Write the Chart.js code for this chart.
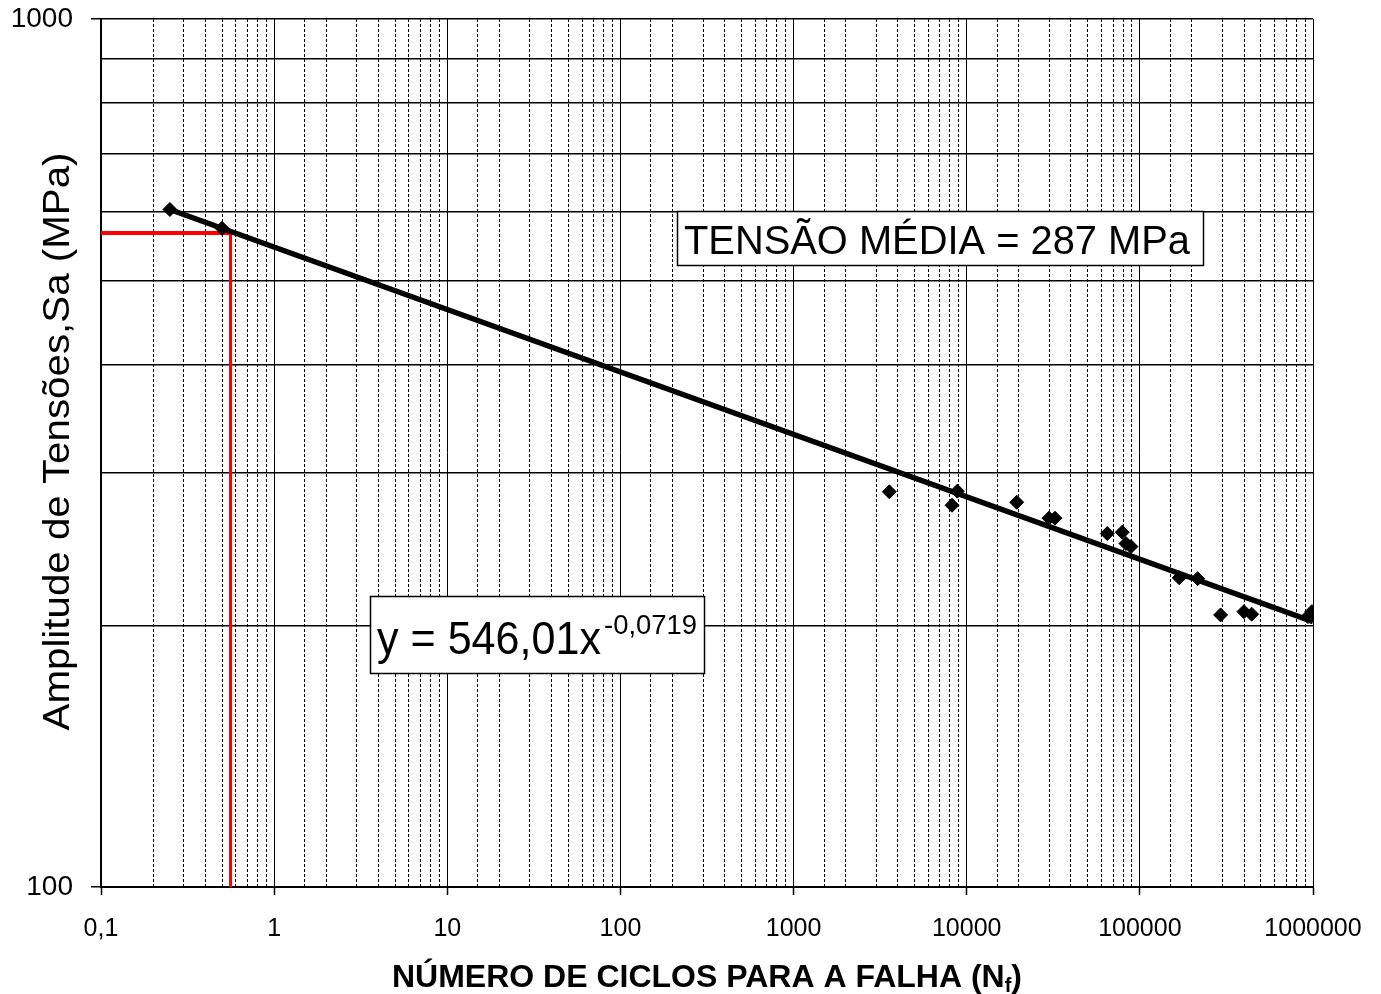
<!DOCTYPE html>
<html>
<head>
<meta charset="utf-8">
<script src="https://cdn.jsdelivr.net/npm/chart.js@4.4.1/dist/chart.umd.min.js"></script>
<style>
  html, body { margin: 0; padding: 0; background: #fff; }
  #wrap { width: 1381px; height: 994px; }
</style>
</head>
<body>
<div id="wrap"><canvas id="c" width="1381" height="994"></canvas></div>
<script>
// Ensaios de fadiga: ciclos até a falha (Nf) e amplitude de tensões (MPa)
const cycles    = [0.25, 0.5, 3573, 8225, 8825, 19440, 29870, 32340, 64830, 79130, 83130, 88830,
                   168800, 215700, 292700, 399000, 442200, 934600, 985400];
const amplitude = [603.3, 573.9, 285.3, 275.3, 285.8, 277.5, 266.0, 266.0, 255.4, 256.3, 248.7, 246.7,
                   227.1, 226.6, 205.8, 207.6, 206.2, 204.9, 207.6];

// Curva de ajuste (lei de potência) y = A * x^b
const fitCoef = 546.01;
const fitExp = -0.0719;
const fitRange = [0.25, 1000000];

// Linha de referência em vermelho
const refCycles = 0.56;
const refAmplitude = 567;

// Linhas de grade do eixo y
const yGridValues = [100, 200, 300, 400, 500, 600, 700, 800, 900, 1000];

// Rótulos dos eixos
const xTickLabels = ['0,1', '1', '10', '100', '1000', '10000', '100000', '1000000'];
const yTickLabels = ['100', '1000'];
const xTitle = 'NÚMERO DE CICLOS PARA A FALHA (N';
const xTitleSub = 'f';
const yTitle = 'Amplitude de Tensões,Sa (MPa)';
const meanStressText = 'TENSÃO MÉDIA = 287 MPa';
const equationBase = 'y = 546,01x';
const equationExp = '-0,0719';

const FONT = '"Liberation Sans", Arial, Helvetica, sans-serif';
const isDecade = v => Math.abs(Math.log10(v) - Math.round(Math.log10(v))) < 1e-6;

function fitText(ctx, text, x, y, font, width, align) {
  ctx.save();
  ctx.font = font;
  const w = ctx.measureText(text).width;
  const s = width / w;
  ctx.translate(x, y);
  ctx.scale(s, 1);
  ctx.textAlign = align || 'left';
  ctx.fillText(text, 0, 0);
  ctx.restore();
}

const annotations = {
  id: 'annotations',
  afterDatasetsDraw(chart) {
    const ctx = chart.ctx;
    ctx.save();
    ctx.textBaseline = 'alphabetic';
    ctx.strokeStyle = '#000';
    ctx.lineWidth = 1.5;

    // caixa da tensão média
    ctx.fillStyle = '#fff';
    ctx.fillRect(677.5, 211.5, 526, 54);
    ctx.strokeRect(677.5, 211.5, 526, 54);
    ctx.fillStyle = '#000';
    fitText(ctx, meanStressText, 684, 254, '40px ' + FONT, 506);

    // caixa da equação
    ctx.fillStyle = '#fff';
    ctx.fillRect(370.5, 596.5, 334, 77);
    ctx.strokeRect(370.5, 596.5, 334, 77);
    ctx.fillStyle = '#000';
    fitText(ctx, equationBase, 377, 654, '46px ' + FONT, 224);
    fitText(ctx, equationExp, 604, 634, '28px ' + FONT, 93);
    ctx.restore();
  },
  afterDraw(chart) {
    const ctx = chart.ctx;
    const area = chart.chartArea;
    ctx.save();
    ctx.fillStyle = '#000';
    ctx.textBaseline = 'alphabetic';

    // título do eixo x, com subscrito
    ctx.font = 'bold 32px ' + FONT;
    const wMain = ctx.measureText(xTitle).width;
    ctx.font = 'bold 20px ' + FONT;
    const wSub = ctx.measureText(xTitleSub).width;
    ctx.font = 'bold 32px ' + FONT;
    const wClose = ctx.measureText(')').width;
    const total = wMain + wSub + wClose;
    const x0 = (area.left + area.right) / 2 - total / 2;
    ctx.fillText(xTitle, x0, 987);
    ctx.font = 'bold 20px ' + FONT;
    ctx.fillText(xTitleSub, x0 + wMain, 992);
    ctx.font = 'bold 32px ' + FONT;
    ctx.fillText(')', x0 + wMain + wSub, 987);

    // título do eixo y (rotacionado)
    ctx.translate(69, 441.5);
    ctx.rotate(-Math.PI / 2);
    fitText(ctx, yTitle, 0, 0, '36px ' + FONT, 578, 'center');
    ctx.restore();
  }
};

const ctx = document.getElementById('c').getContext('2d');
new Chart(ctx, {
  type: 'scatter',
  data: {
    datasets: [
      {
        label: 'Ensaios',
        data: cycles.map((x, i) => ({ x, y: amplitude[i] })),
        pointStyle: 'rectRot',
        pointRadius: 7,
        backgroundColor: '#000',
        borderColor: '#000',
        borderWidth: 1,
        order: 0
      },
      {
        label: 'Ajuste',
        data: fitRange.map(x => ({ x, y: fitCoef * Math.pow(x, fitExp) })),
        showLine: true,
        borderColor: '#000',
        borderWidth: 5.5,
        pointRadius: 0,
        order: 1
      },
      {
        label: 'Referência horizontal',
        data: [{ x: 0.1, y: refAmplitude }, { x: refCycles, y: refAmplitude }],
        showLine: true,
        borderColor: '#ff0000',
        borderWidth: 4,
        pointRadius: 0,
        order: 2
      },
      {
        label: 'Referência vertical',
        data: [{ x: refCycles, y: refAmplitude }, { x: refCycles, y: 100 }],
        showLine: true,
        borderColor: '#ff0000',
        borderWidth: 3,
        pointRadius: 0,
        order: 2
      }
    ]
  },
  options: {
    responsive: false,
    animation: false,
    devicePixelRatio: 1,
    layout: { padding: { left: 0, right: 68, top: 19, bottom: 0 } },
    plugins: { legend: { display: false }, tooltip: { enabled: false } },
    scales: {
      x: {
        type: 'logarithmic',
        position: 'bottom',
        min: 0.1,
        max: 1000000,
        afterFit: s => { s.height = 107; s.paddingLeft = 0; s.paddingRight = 0; },
        grid: {
          color: '#000',
          lineWidth: 1,
          tickLength: 8,
          tickWidth: 1.5,
          tickColor: c => (c.tick && isDecade(c.tick.value)) ? '#000' : 'rgba(0,0,0,0)'
        },
        border: {
          color: '#000',
          width: 2,
          dash: c => (c.type === 'tick' && c.tick && !isDecade(c.tick.value)) ? [3, 2] : []
        },
        ticks: {
          autoSkip: false,
          maxRotation: 0,
          minRotation: 0,
          padding: 19,
          color: '#000',
          font: { family: FONT, size: 25 },
          callback: v => isDecade(v) ? xTickLabels[Math.round(Math.log10(v)) + 1] : ''
        }
      },
      y: {
        type: 'logarithmic',
        position: 'left',
        min: 100,
        max: 1000,
        afterBuildTicks: s => { s.ticks = yGridValues.map(v => ({ value: v, major: isDecade(v) })); },
        afterFit: s => { s.width = 101; s.paddingTop = 0; s.paddingBottom = 0; },
        grid: {
          color: '#000',
          lineWidth: 1.5,
          tickLength: 10,
          tickWidth: 1.5,
          tickColor: c => (c.tick && isDecade(c.tick.value)) ? '#000' : 'rgba(0,0,0,0)'
        },
        border: { color: '#000', width: 2 },
        ticks: {
          autoSkip: false,
          padding: 18,
          color: '#000',
          font: { family: FONT, size: 28 },
          callback: v => isDecade(v) ? yTickLabels[Math.round(Math.log10(v)) - 2] : ''
        }
      }
    }
  },
  plugins: [annotations]
});
</script>
</body>
</html>
